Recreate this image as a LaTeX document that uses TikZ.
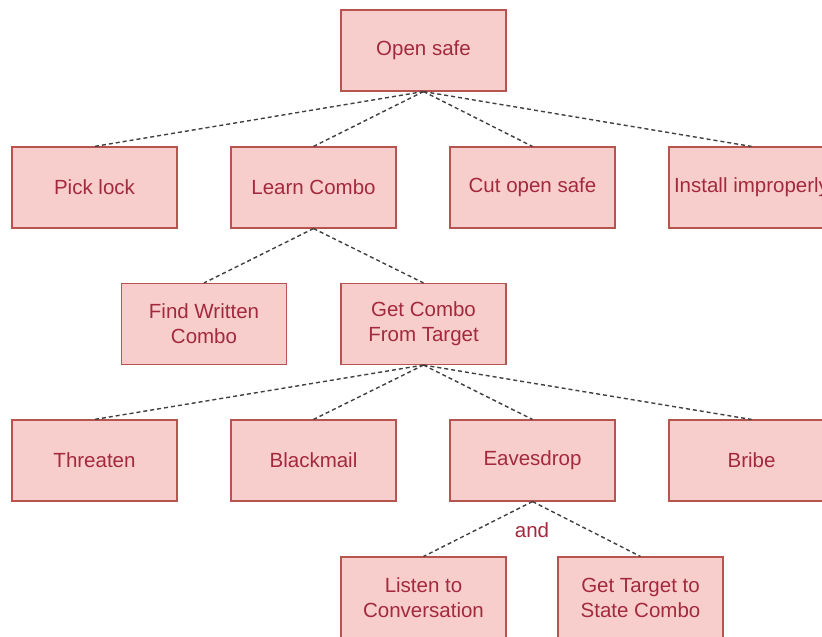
\documentclass[tikz,border=0pt]{standalone}
\usepackage{fontspec}
\setmainfont{Liberation Sans}
\definecolor{boxfill}{HTML}{F8CECC}
\definecolor{boxdraw}{HTML}{B85450}
\definecolor{boxtext}{RGB}{163,41,62}
\definecolor{edgecol}{RGB}{64,64,64}
\tikzset{
  box/.style={draw=boxdraw, fill=boxfill, line width=1.1pt, minimum width=165pt, minimum height=81pt,
    inner sep=0pt, text=boxtext, font=\fontsize{20.5}{25}\selectfont, align=center},
  link/.style={draw=edgecol, line width=1.4pt, dash pattern=on 4pt off 3pt}
}
\begin{document}
\begin{tikzpicture}[x=1pt,y=-1pt]
\clip (0,0) rectangle (822,637);
\fill[white] (0,0) rectangle (822,637);
% row 1
\node[box] (open) at (423.5,50.5) {Open safe};
% row 2
\node[box] (pick) at (94.5,187.5) {Pick lock};
\node[box] (learn) at (313.5,187.5) {Learn Combo};
\node[box] (cut) at (532.5,187.5) {Cut open safe};
\node[box] (install) at (751.5,187.5) {Install improperly};
% row 3
\node[box] (find) at (204,324) {Find Written\\Combo};
\node[box] (get) at (423.5,324) {Get Combo\\From Target};
% row 4
\node[box] (threaten) at (94.5,460.5) {Threaten};
\node[box] (blackmail) at (313.5,460.5) {Blackmail};
\node[box] (eaves) at (532.5,460.5) {Eavesdrop};
\node[box] (bribe) at (751.5,460.5) {Bribe};
% row 5
\node[box] (listen) at (423.5,597.5) {Listen to\\Conversation};
\node[box] (state) at (640.5,597.5) {Get Target to\\State Combo};
% and label
\node[text=boxtext, font=\fontsize{20.5}{25}\selectfont, inner sep=0pt] (andlbl) at (532,530) {and};
% edges
\foreach \c in {pick,learn,cut,install}
  \draw[link] (open.south) -- (\c.north);
\foreach \c in {find,get}
  \draw[link] (learn.south) -- (\c.north);
\foreach \c in {threaten,blackmail,eaves,bribe}
  \draw[link] (get.south) -- (\c.north);
\foreach \c in {listen,state}
  \draw[link] (eaves.south) -- (\c.north);
\end{tikzpicture}
\end{document}
